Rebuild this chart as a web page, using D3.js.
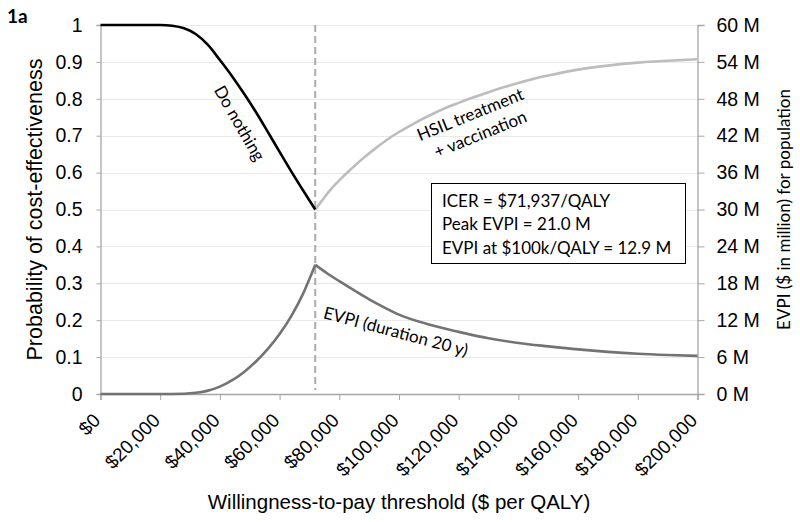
<!DOCTYPE html>
<html>
<head>
<meta charset="utf-8">
<script src="https://cdn.jsdelivr.net/npm/d3@7"></script>
<style>
  html, body { margin: 0; padding: 0; background: #fff; }
  svg { display: block; }
</style>
</head>
<body>
<svg id="chart" width="800" height="522"></svg>
<script>
// ---------- data ----------
const xTicks = [0, 20000, 40000, 60000, 80000, 100000, 120000, 140000, 160000, 180000, 200000];
const yLeftTicks = [0, 0.1, 0.2, 0.3, 0.4, 0.5, 0.6, 0.7, 0.8, 0.9, 1];
const yRightTicks = [0, 6, 12, 18, 24, 30, 36, 42, 48, 54, 60];

const icer = 71937;

const wtpDoNothing  = [0, 10000, 20000, 22000, 24000, 28000, 32000, 36000, 40000, 44000, 48000, 52000, 56000, 60000, 64000, 68000, 71937];
const probDoNothing = [1, 1, 1, 0.9995, 0.998, 0.991, 0.975, 0.946, 0.905, 0.862, 0.815, 0.765, 0.711, 0.656, 0.602, 0.55, 0.5];

const wtpHsil  = [71937, 74000, 77000, 80000, 84000, 88000, 92000, 96000, 100000, 105000, 110000, 115000, 120000, 125000, 130000, 135000, 140000, 145000, 150000, 160000, 170000, 180000, 190000, 200000];
const probHsil = [0.5, 0.522, 0.553, 0.579, 0.61, 0.639, 0.665, 0.689, 0.71, 0.733, 0.754, 0.773, 0.789, 0.804, 0.818, 0.831, 0.843, 0.854, 0.863, 0.879, 0.89, 0.898, 0.903, 0.907];

const wtpEvpi = [0, 10000, 20000, 28000, 32000, 36000, 40000, 44000, 48000, 52000, 56000, 60000, 64000, 68000, 71937,
                 76000, 80000, 85000, 90000, 95000, 100000, 110000, 120000, 130000, 140000, 150000, 160000, 170000, 180000, 190000, 200000];
const evpiM   = [0, 0, 0, 0.05, 0.2, 0.55, 1.2, 2.2, 3.55, 5.25, 7.3, 9.75, 12.75, 16.45, 21.0,
                 19.6, 18.35, 16.85, 15.4, 14.1, 12.9, 11.3, 10.1, 9.05, 8.3, 7.75, 7.25, 6.85, 6.55, 6.35, 6.2];

const boxLines = ["ICER = $71,937/QALY", "Peak EVPI = 21.0 M", "EVPI at $100k/QALY = 12.9 M"];

// ---------- layout ----------
const svg = d3.select("#chart");
const L = 100.5, R = 697.5, T = 25, B = 394;
const x = d3.scaleLinear().domain([0, 200000]).range([L, R]);
const yL = d3.scaleLinear().domain([0, 1]).range([B, T]);
const yR = d3.scaleLinear().domain([0, 60]).range([B, T]);

const axisFont = "Liberation Sans, Arial, sans-serif";
const calFont = "Lato, Open Sans, sans-serif";
const axisGrey = "#a6a6a6";

// gridlines
svg.append("g").selectAll("line").data(yLeftTicks.filter(d => d > 0)).join("line")
  .attr("x1", L).attr("x2", R)
  .attr("y1", d => Math.round(yL(d)) + 0.5).attr("y2", d => Math.round(yL(d)) + 0.5)
  .attr("stroke", "#e9e9e9").attr("stroke-width", 1);

// left axis
const gL = svg.append("g").attr("transform", `translate(${L},0)`)
  .call(d3.axisLeft(yL).tickValues(yLeftTicks).tickSize(4).tickPadding(14)
        .tickFormat(d => d3.format("")(+d.toFixed(1))));
gL.attr("font-family", axisFont);
gL.select(".domain").attr("stroke", axisGrey).attr("stroke-width", 1.3);
gL.selectAll(".tick line").attr("stroke", axisGrey);
gL.selectAll(".tick text").attr("font-family", axisFont).attr("font-size", 19.5).attr("fill", "#000");

// right axis
const gR = svg.append("g").attr("transform", `translate(${R},0)`)
  .call(d3.axisRight(yR).tickValues(yRightTicks).tickSize(7).tickPadding(12).tickFormat(d => d + " M"));
gR.attr("font-family", axisFont);
gR.select(".domain").attr("stroke", axisGrey).attr("stroke-width", 1.3);
gR.selectAll(".tick line").attr("stroke", axisGrey);
gR.selectAll(".tick text").attr("font-family", axisFont).attr("font-size", 19.5).attr("fill", "#000");

// bottom axis
const gB = svg.append("g").attr("transform", `translate(0,${B})`)
  .call(d3.axisBottom(x).tickValues(xTicks).tickSize(6).tickFormat(d => "$" + d3.format(",")(d)));
gB.attr("font-family", axisFont);
gB.select(".domain").attr("stroke", axisGrey).attr("stroke-width", 1.3);
gB.selectAll(".tick line").attr("stroke", axisGrey);
gB.selectAll(".tick text")
  .attr("font-family", axisFont).attr("font-size", 19).attr("fill", "#000")
  .attr("text-anchor", "end")
  .attr("dy", null).attr("y", null)
  .attr("transform", "translate(-3,24) rotate(-45)")
  .attr("dominant-baseline", "middle");

// dashed ICER line
svg.append("line")
  .attr("x1", x(icer)).attr("x2", x(icer))
  .attr("y1", T).attr("y2", B - 4)
  .attr("stroke", "#ababab").attr("stroke-width", 2).attr("stroke-dasharray", "7,4");

// curves
const lineL = d3.line().x(d => x(d[0])).y(d => yL(d[1])).curve(d3.curveMonotoneX);
const lineR = d3.line().x(d => x(d[0])).y(d => yR(d[1])).curve(d3.curveMonotoneX);

const evpiPts = d3.zip(wtpEvpi, evpiM);
const evpiRise = evpiPts.filter(d => d[0] <= icer);
const evpiFall = evpiPts.filter(d => d[0] >= icer);
svg.append("path").attr("d", lineR(evpiRise) + lineR(evpiFall))
  .attr("fill", "none").attr("stroke", "#737373").attr("stroke-width", 2.6)
  .attr("stroke-linejoin", "miter");
svg.append("path").attr("d", lineL(d3.zip(wtpHsil, probHsil)))
  .attr("fill", "none").attr("stroke", "#bdbdbd").attr("stroke-width", 2.6);
svg.append("path").attr("d", lineL(d3.zip(wtpDoNothing, probDoNothing)))
  .attr("fill", "none").attr("stroke", "#000").attr("stroke-width", 2.6);

// curve labels
svg.append("text").attr("transform", "translate(240,123) rotate(60)")
  .attr("text-anchor", "middle").attr("dominant-baseline", "central")
  .attr("font-family", calFont).attr("font-size", 17).attr("fill", "#000")
  .text("Do nothing");

const hs = svg.append("text").attr("transform", "translate(470,114) rotate(-22)")
  .attr("text-anchor", "middle")
  .attr("font-family", calFont).attr("font-size", 17).attr("fill", "#000");
hs.append("tspan").attr("x", 0).attr("y", 0).attr("dominant-baseline", "central").text("HSIL treatment");
hs.append("tspan").attr("x", 2).attr("y", 22).attr("dominant-baseline", "central").text("+ vaccination");

svg.append("text").attr("transform", "translate(396,331) rotate(15)")
  .attr("text-anchor", "middle").attr("dominant-baseline", "central")
  .attr("font-family", calFont).attr("font-size", 17).attr("fill", "#000")
  .text("EVPI (duration 20 y)");

// info box
svg.append("rect").attr("x", 431.5).attr("y", 183.5).attr("width", 254).attr("height", 80)
  .attr("fill", "#fff").attr("stroke", "#000").attr("stroke-width", 1);
svg.append("g").selectAll("text").data(boxLines).join("text")
  .attr("x", 442).attr("y", (d, i) => 200 + i * 23.5)
  .attr("dominant-baseline", "central")
  .attr("font-family", calFont).attr("font-size", 17).attr("fill", "#000")
  .text(d => d);

// axis titles
svg.append("text").attr("transform", `translate(35,${(T + B) / 2}) rotate(-90)`)
  .attr("text-anchor", "middle").attr("dominant-baseline", "central")
  .attr("font-family", axisFont).attr("font-size", 21.5).attr("fill", "#000")
  .text("Probability of cost-effectiveness");

svg.append("text").attr("transform", `translate(783,${(T + B) / 2}) rotate(-90)`)
  .attr("text-anchor", "middle").attr("dominant-baseline", "central")
  .attr("font-family", calFont).attr("font-size", 17).attr("fill", "#000")
  .text("EVPI ($ in million) for population");

svg.append("text").attr("x", (L + R) / 2).attr("y", 509)
  .attr("text-anchor", "middle")
  .attr("font-family", axisFont).attr("font-size", 20.5).attr("fill", "#000")
  .text("Willingness-to-pay threshold ($ per QALY)");

svg.append("text").attr("x", 7).attr("y", 23)
  .attr("font-family", calFont).attr("font-size", 19).attr("font-weight", "bold").attr("fill", "#000")
  .text("1a");
</script>
</body>
</html>
